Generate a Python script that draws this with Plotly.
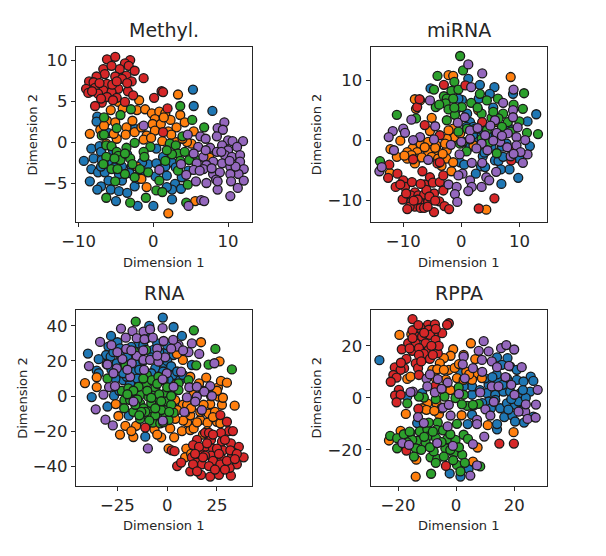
import plotly.graph_objects as go

methyl_blue = [(5.3,6.4),(5.4,4.4),(7.9,3.8),(-7.5,3.1),(-7.6,2.5),(-6.0,1.1),(-2.5,1.6),(-8.3,-0.8),(-7.2,-0.5),(-7.0,-1.2),(-8.0,-2.0),(-9.3,-2.3),(-5.4,-1.0),(1.3,-1.8),(0.4,-0.8),(-8.3,-3.3),(-7.4,-3.7),(-6.5,-3.7),(-4.2,-3.0),(-2.9,-3.0),(-0.7,-2.7),(0.4,-2.6),(2.5,-2.5),(-8.5,-4.8),(-6.0,-4.7),(-4.2,-4.7),(-2.5,-5.4),(1.8,-4.1),(2.9,-5.1),(3.8,-4.3),(-7.0,-5.4),(-7.5,-5.8),(-5.7,-5.8),(-4.6,-6.0),(-3.5,-6.2),(2.5,-5.8),(3.7,-5.7),(2.5,-7.0),(-5.0,-7.2),(-2.1,-7.8),(0,-7.8),(4.7,-3.5),(-1.8,-3.9),(-5.5,-2.5),(-3.2,-3.8),(-6.9,-2.2),(-1.5,-2.5),(0.9,-3.3),(1.6,-3),(3,-3.1),(-4.6,-3.9),(-2,-4.5),(-7,-3),(-5.2,-3.1),(-3.5,-1.5),(1.8,-5.5),(0.3,-4.2)]
methyl_orange = [(3.3,5.8),(-1.9,5.1),(-4.7,4.9),(-5.7,3.9),(-4.1,4.1),(-2.2,3.9),(-1.1,4.0),(-0.2,3.5),(0.8,3.7),(1.6,3.5),(3.6,3.3),(0.2,2.8),(2.3,2.7),(-6.2,2.6),(-5.1,2.4),(-0.1,2.2),(1.0,2.2),(4.2,2.4),(-7.1,1.5),(-3.6,1.8),(3.1,1.8),(0.2,1.4),(2.0,1.3),(5.4,1.3),(-8.5,1.0),(-3.7,0.9),(-2.5,1.2),(-0.9,0.8),(2.4,0.9),(-4.9,0.4),(-1.3,0.3),(1.2,0.1),(3.1,0),(5.1,-0.2),(7.5,-1.9),(-2.2,-3.0),(-1.6,-4.5),(-0.9,-5.5),(2.0,-8.7),(5.6,-7.2),(4.5,0),(-2.8,2.6),(-1.6,1.8),(-6.6,2),(-5.3,1),(-0.3,0.5),(1.4,3.0),(3.9,0.4),(-6.3,-0.2)]
methyl_green = [(-3.0,4.0),(3.6,4.4),(-4.4,3.3),(-6.6,3.0),(5.2,2.7),(6.8,1.8),(-4.9,1.7),(-6.9,0.8),(-6.6,0.9),(3.9,0.7),(-6.3,-0.4),(-5.6,-0.5),(-2.5,-0.1),(-3.6,-0.7),(-0.4,-0.6),(2.2,-0.2),(3.0,-0.4),(-4.9,-1.2),(-6.3,-1.8),(-4.7,-1.7),(-3.1,-2.0),(-1.3,-1.2),(-1.2,-1.8),(3.3,-1.4),(4.2,-1.2),(2.5,-1.5),(-6.7,-2.7),(-4.4,-2.2),(-5.6,-3.3),(-3.8,-3.9),(-2.5,-4.3),(-0.7,-3.7),(3.3,-3.5),(-5.1,-4.8),(0.8,-4.7),(4.6,-5.2),(0.4,-5.9),(1.2,-6.1),(-6.3,-6.8),(-3.1,-7.4),(-1.0,-6.8),(4.4,-7.4),(5.8,-2.2),(-4.8,-3.3),(-2.8,-2.7),(-1.8,-3.3),(1.8,-1),(3.6,-2.3),(-5.2,-2),(-3.8,-1.4),(4.8,-2.2),(1.6,-2.3)]
methyl_red = [(-6.2,10.1),(-5.1,10.4),(-3.1,10.0),(-3.8,9.6),(-6.7,8.9),(-4.5,8.9),(-3.3,9.3),(-2.5,8.7),(-6.5,8.3),(-7.6,8.0),(-5.1,8.0),(-3.6,8.1),(-1.3,7.8),(-8.6,7.4),(-8.0,7.3),(-6.2,7.1),(-4.2,7.7),(-2.9,7.4),(-4.7,6.5),(-9.0,6.5),(-7.8,6.6),(-6.7,6.3),(-8.7,6.0),(-7.4,5.9),(-5.6,6.1),(-3.4,6.2),(-6.9,4.8),(-6.2,5.5),(-4.9,5.4),(-3.8,4.9),(-7.8,4.4),(-2.7,5.7),(0.1,5.4),(1.1,6.2),(1.3,6.1),(1.9,4.1),(1.3,1.2),(-5.6,9.3),(-7.2,7.2),(-5.5,7),(-4.9,7.4),(-3.5,7.2),(-8.2,6.2),(-7,5.3),(-5.4,5.1)]
methyl_purple = [(9.5,2.4),(8.6,1.7),(9.3,1.5),(-1.3,2.0),(4.6,0.9),(6.3,0.7),(7.0,0.4),(8.5,0.7),(12.0,0.1),(10.0,0.2),(10.6,0.1),(6.0,-0.6),(7.6,-0.7),(9.2,-0.4),(10.0,-1.0),(11.2,-0.6),(8.5,-1.2),(5.4,-1.4),(6.7,-1.8),(9.6,-1.6),(10.5,-1.8),(11.6,-1.6),(8.0,-2.4),(5.8,-2.6),(7.1,-2.8),(9.2,-2.6),(11.6,-2.4),(12.1,-3.3),(10.3,-3.0),(3.7,-2.7),(0.8,-3.4),(5.4,-3.4),(6.7,-3.3),(8.0,-3.9),(8.9,-3.7),(11.4,-3.9),(10.3,-3.9),(5.7,-4.8),(7.1,-5.0),(8.4,-4.6),(10.4,-4.8),(12.1,-4.7),(11.3,-5.6),(8.6,-5.8),(4.7,-7.8),(6.4,-7.1),(6.8,-7.2),(10.3,-6.6),(7.8,-3.2),(9.1,-1.2),(6.2,-3.5),(11,-3),(10.2,-2.3),(7,-1),(8.6,-4.8),(4.4,-4)]

mirna_blue = [(1.2,10.3),(3.2,9.3),(5.7,8.9),(-5.3,8.7),(4.9,7.8),(8.9,7.8),(0.1,6.8),(12.9,4.4),(11.4,3.2),(1.5,3.1),(0.9,2.3),(2.1,2.3),(3.8,1.2),(5.2,0.6),(5.2,-1.1),(11.8,-0.9),(3.7,-2.6),(5.8,-3.3),(6.4,-3.4),(3.4,-4.3),(4.1,-4.4),(-0.2,-3.6),(8.3,-4.8),(6.8,-4.8),(9.8,-6.2),(2.5,-5.5),(6.9,-7.2),(3.2,-0.5),(7.8,-0.5),(7.2,-2.7),(3,0.5),(1,4.5),(-1,5),(-0.5,7),(6,1),(7,-1),(9.5,-2.8),(2,1),(4,-2),(8,2.5),(5.5,5.5),(3,7),(10,-3),(0.5,-4),(1.5,-1)]
mirna_orange = [(8.5,10.6),(-2.2,10.9),(-1.4,10.8),(-8,6.9),(-7.1,6.7),(-7.8,5.3),(-5.1,3.8),(-10.5,0),(-12.2,-1.4),(-11.1,-2.7),(-1.4,2.0),(2.9,5.1),(5.8,3.1),(-5.4,1.6),(-2.2,1.7),(-1.1,0.6),(-2.5,0.3),(-7,-0.5),(-5.7,-0.2),(-4.3,-0.8),(-8.4,-1.3),(-9.3,-1.9),(-7.6,-1.9),(-5.7,-1.9),(-4,-1.9),(-2.5,-1.6),(-9.3,-3),(-7.6,-3),(-2.6,-3),(-1.4,-3.6),(-1.7,-5.1),(-12.3,-5.4),(4.3,-11.5),(2.1,-0.8),(-5.1,-2.7),(-4,-3),(-8.6,-2.4),(-6.8,-2.8),(-4.5,-1.2),(-3.2,-2.2),(-6.3,-1.1),(-8,-3.8),(-3.4,-4.2),(-2.8,-0.5),(-0.2,1.2),(-9.8,-2.5)]
mirna_green = [(-0.2,14.1),(0.3,11.7),(-4.1,10.8),(-1.2,9.8),(-4.7,8.5),(3.2,7.8),(10.8,7.9),(-1.7,8.3),(-3,7.4),(-2.5,7),(-1.4,7),(1.7,6.3),(4.4,6.7),(6.3,7),(-4.4,5.6),(-2.7,6.2),(0.1,5.6),(-2.2,5.2),(10.6,5.3),(-11.1,4.3),(-1.1,4.3),(3.5,4.5),(7.2,4.5),(-2.5,3.4),(5.2,3.8),(6.4,3.7),(8,3.1),(10,3.2),(3.5,2.6),(7,2.3),(11.3,1.3),(13.2,1.1),(0.3,-0.2),(-0.2,-0.5),(0.9,-1.8),(6.1,-2.1),(-14,-3.4),(-7.8,3.7),(2.4,2.0),(4.4,1.7),(3.5,0.3),(1,2),(2.8,5.5),(5.5,4.8),(-3.8,6),(-0.5,8.5),(8.5,1.5),(6.5,1),(4.8,-0.3),(-0.5,1.5),(1.5,0.2),(9,6),(-1.2,5.5)]
mirna_red = [(-12.4,-4.0),(-12.6,-6.2),(-11.0,-5.5),(-11.3,-7.7),(-10,-6.6),(-9.7,-7.7),(-8.5,-6.9),(-6.7,-5.1),(-5.4,-6.1),(-6.3,-7.3),(-4.9,-7.0),(-3.7,-6.9),(-3.1,-5.8),(-3.1,-8.3),(-8,-8.6),(-8.7,-9.1),(-7.4,-9.1),(-6.4,-9.0),(-4.7,-8.8),(-10.1,-9.8),(-8.6,-10.2),(-7.2,-10.2),(-5.7,-10.2),(-8,-11),(-8.9,-11),(-9.3,-11.4),(-7,-11.2),(-6.4,-11.2),(-3.8,-10.1),(-2.9,-10.9),(-2.1,-11.4),(-4.7,-11.9),(3.0,-11.3),(5.7,-9.6),(-4.1,-3.8),(-3.7,0.9),(-6.3,2.6),(-7.6,5.6),(-7.2,6.9),(-3,9.3),(0.7,9.2),(3.6,3.1),(8.6,-3.3),(9.1,-1.6),(-8.3,-3.1),(-3.7,-3.6),(-7.5,-9.8),(-8.2,-10),(-6,-8.2),(-5.5,-9.3),(-9.5,-8.8),(-7,-7.2),(-10.5,-7.3),(-5.8,-11),(-4.5,-10)]
mirna_purple = [(1.2,12.7),(3.6,11.2),(1.7,8.9),(9,8.5),(-5.4,6.7),(7.2,6.3),(8.9,5.1),(-8.6,3.5),(-11.8,1.6),(-12.5,0.6),(-10,2),(-9.7,1.3),(-7.1,0.6),(-8.3,0.1),(-4.5,2.4),(-4.7,0.2),(-11.6,-1.6),(-0.6,3),(0.6,3.9),(5.8,3.4),(8.9,3.9),(9.7,2.2),(1.5,1.7),(4.1,0.9),(6.1,1.3),(8,1.2),(9.5,0.6),(11,0.1),(1.5,0.3),(3.5,-0.5),(6.7,-0.2),(7.9,-1.1),(9.5,-0.8),(2.6,-1.3),(4.5,-1.6),(-0.3,-2.3),(11.4,-2.3),(10.2,-1.9),(-5.7,-3.2),(1.8,-3.7),(10.6,-3.7),(6,-5.2),(0.2,-5.5),(-0.5,-5.8),(4.3,-6.1),(4.8,-6.6),(1.5,-6.6),(-2.2,-7.3),(-0.8,-7.7),(3.5,-7.7),(1.8,-7.7),(1.2,-8.4),(-1.1,-8.9),(-0.7,-10.2),(-14.1,-5.1),(-13.7,-4.4),(5.5,0),(8.5,-2.6),(2.8,2.1),(7,0.8),(0,-0.2),(5,2.5),(9,-2.2),(3.6,-3.7),(-1.8,-0.7)]

rna_blue = [(-2.2,44.8),(3.2,39.4),(-9,40),(7.4,34.3),(-28.2,34.3),(-25,30.7),(-29.5,28.2),(-23.7,27.2),(-39.8,24.2),(-30.7,23.4),(-28.4,22.5),(-34.4,21),(-30.4,18.1),(-35.4,14.5),(-34.4,13),(-25.3,18.7),(-19.5,16.8),(-22,9),(-17,14),(-13.6,24.4),(-6.9,26.3),(-1.8,24.4),(3.2,23.4),(-1.8,18.7),(-6,15.8),(3.2,12),(6.5,9.1),(0.7,9.1),(-14.4,30),(-37.9,-0.6),(-30,-6),(-26.7,0.2),(-19.3,-11.2),(-11,-23.2),(12.4,17.7),(-18.6,7.2),(-11.9,12),(-10.2,33),(-20.3,11),(-27,25),(-22,20),(-15,18),(-12,20),(-8,22),(-4,25),(0,20),(-22,13),(-26,10),(-15,10),(-8,13),(-2,14),(2,17),(5,14),(8,12),(-28,15),(-12,29),(-5,30),(0,29),(-18,28),(-24,24),(-20,22),(-14,15),(-24,3),(-18,-2)]
rna_orange = [(-41.3,7.4),(-35.4,10.7),(-35.4,5.1),(-25.8,-4.6),(-24.5,-11.4),(-21,-17),(-23.7,-22),(-17,-23.4),(-15.6,-17),(-6.4,-19),(1.5,-18.5),(-3,-23.6),(3.5,-23.6),(7.4,-20),(0.7,-30),(9.6,-30),(9,-35),(11.6,-19.4),(10,-15),(13.3,-18.5),(16.6,-13.7),(20.3,-15.2),(25,-14.7),(26.7,-15.6),(11.6,-11),(16.6,-9),(20.8,-10),(24,-9),(27.5,-5),(33.9,-5.5),(21.6,-4.6),(18.3,-5),(25.8,-0.4),(25.5,4.8),(27,8.6),(30,7.6),(19.6,10.5),(16,7.2),(11.6,11),(7.9,20.6),(4.9,24),(26.3,19.8),(17,30.7),(7.9,-5),(4,-2.3),(9,-9.5),(13,0.6),(4,6.3),(5,-8),(10,-5),(15,-15),(20,-20),(23,-12),(28,-1),(22,0),(18,3),(12,-7),(8,-14),(4,-13),(18,-22),(14,-30),(12,-33),(25,3),(-5,-22),(-18,-20)]
rna_green = [(-15.8,42.5),(13.4,37.5),(24.2,26.9),(32.5,15.2),(14.6,17.5),(20.8,17.9),(-10.6,26.3),(-16.6,25.3),(-21,17.7),(-30,10),(-22.8,2.9),(-19.5,4.4),(-21.5,-2.3),(-21.6,-7),(-17,0.6),(-13.6,0.6),(-10.6,6.9),(-10.2,12),(-6,4.4),(-1.8,9.1),(-13.6,-4.2),(-9.4,-0.4),(-7.2,0.2),(-4.4,-3.2),(-0.5,1.9),(5.7,7.2),(3.2,2.5),(-11.9,-7),(-7.7,-7.6),(-1.8,-6.5),(-13.6,-13),(-7.2,-15.2),(3.2,-9.5),(-1.8,-12.2),(-3.5,-15.6),(-0.2,-3.2),(0.7,-13.7),(-9.4,-11.8),(-18.6,-2.3),(-14.4,5.3),(-7.7,9.1),(-4.4,11),(-17,-9),(-5.2,-10.9),(-11,-9),(5.7,3.4),(10.7,9.1),(-15,-2),(-8,-4),(-3,-8),(2,-5),(-10,3),(-4,1),(0,5),(-13,-9),(-6,-11),(-16,-5),(-9,-14),(-3,-3),(1,-9),(-5,7),(-12,10),(-8,-1),(-14,-11),(2,0),(-2,-15),(-6,-7),(-17,3),(-20,1)]
rna_red = [(26.7,-10.9),(30,-14.7),(19,-21),(21,-21),(31,-20),(33,-20),(15,-25),(22,-25),(27.5,-26),(32,-27),(36,-29),(13,-28),(19,-29),(23,-30),(28,-31),(33,-32),(12.4,-35),(17,-33),(22,-34),(27.5,-36),(32.5,-34),(38.4,-35),(15,-38),(19,-34),(23,-37),(17.5,-39),(26.7,-39),(35,-39),(5,-40),(7,-38),(11.6,-43),(17,-45),(21.6,-46),(26,-45),(32,-45.5),(31.4,-41),(13,-39),(2.3,-31),(3.7,-31.5),(-11,-18),(31.7,-31),(21,-40),(29,-42),(16,-29),(25,-30),(30,-37),(24,-42),(18,-35),(14,-33),(27,-21),(20,-27),(35,-33),(15,-43),(26,-33),(34,-36),(29,-25),(23,-22)]
rna_purple = [(-23.2,38.5),(-17.4,37),(-11.9,36.8),(-8.6,38),(-2.3,38.7),(-33.7,30.9),(-20.8,33.3),(-15.3,33),(-11.4,32.4),(-7.2,33.3),(-1.8,31.4),(12.4,30),(5.7,29),(-20.6,26.9),(-15.3,22.9),(-22.5,21.1),(-17.8,18.7),(-11.9,20.6),(-8.6,20.6),(-4.4,19.6),(-1,22.1),(10.7,25),(16.1,24),(23.7,18.7),(-39.3,17.1),(-25.3,15.8),(-27,13),(-18.6,11),(-11.6,14.9),(-0.2,13),(-2.3,9.5),(7,13.9),(11.1,5),(-29.2,5.1),(-26.2,5.7),(-32,0.8),(3.2,5.3),(14.9,5.3),(21.6,5.7),(18.6,2.5),(22.5,0),(9.9,-0.8),(14.9,-0.4),(14.1,-3.2),(-16.9,-3.2),(-35.9,-7.6),(-31,-13.5),(-27.3,-16.8),(17.4,-8),(8.6,-9.1),(-2.2,-14.1),(-9.7,-29.9),(4.9,28.2),(-28,29),(-12,26),(-5,27),(-25,25),(3,32),(8,26),(-18,26),(-20,15),(-5,23),(2,27),(-30,18)]

rppa_blue = [(-26.4,14.5),(1.5,-30.3),(-2.2,-29.1),(4.3,-27.4),(-13.4,-9.7),(-16.8,0.5),(-11.7,1.8),(1.5,9.5),(14.1,15.6),(17.7,15.3),(15.8,12.7),(18.6,12.1),(20.9,10.8),(17.5,7.6),(20.9,6.9),(25.7,8.2),(26.6,6.5),(11.2,5),(14.1,6.9),(23.2,6.3),(5.5,1.2),(5.5,4.4),(2.6,4.4),(10.6,1.8),(13.5,1.2),(16.3,2.4),(18.6,2.4),(22.1,1.8),(25.5,2.4),(11.2,-1.4),(15.2,-4),(17.5,-2.1),(20.3,-2.7),(5.5,-6.5),(16.6,-7.4),(19.4,-6.8),(23.4,-9.5),(20.3,-9.1),(4,-10.1),(14.1,-12.1),(14.1,-10.1),(13.5,-0.8),(26.6,-7.2),(21.5,-1.4),(8.2,3),(12,-4),(24,0),(16,5),(22,-5),(14,9),(19,-0.5),(10,7.5),(6,-3),(18,-4.5),(9,-2),(12.5,8),(23,3)]
rppa_orange = [(-19.5,24.2),(-15.4,24.5),(5.1,21),(-1,18.7),(-1.9,16.2),(-4.2,15.3),(-5.6,13.3),(-8.2,10.8),(-2.5,10.8),(-6.5,11),(-16.8,7.3),(-15.7,8.2),(0.3,7.6),(3.5,10.1),(6.6,14.9),(7.2,9.5),(8.9,7.6),(2.6,6.9),(5.5,6.9),(-9.9,-2.1),(-11.7,-4),(-10.2,-4.6),(-6.7,-2.1),(-5.9,-6.3),(-17.3,-6.2),(1.9,-6.7),(10.9,-10.5),(19.8,-13.2),(-19.1,-12.7),(-23.1,-16.4),(7.4,-19.1),(-13.7,-23.8),(5.8,-24.5),(-13.9,-30.3),(-4.2,10.8),(2.6,16.5),(-3.5,7),(-0.5,11.5),(-7,7.5),(-5,-4),(-7.5,-5),(4.5,9),(1,13),(-2,3)]
rppa_green = [(-8.6,-29.2),(-22.7,-14.6),(-20.3,-15.5),(-20.3,-19.4),(-15.7,-13.6),(-12.5,-12.9),(-9.9,-12.1),(-6.3,-9.5),(-9.4,-9.5),(-6.7,-12.3),(-9.9,-14.9),(-13.4,-16.5),(-10.5,-17.1),(-6.9,-15.5),(-3.1,-15.9),(0.3,-10),(2.6,-14.2),(4.1,-15.8),(-0.2,-16.2),(-15.1,-16.2),(-13.9,-19.4),(-14.5,-22.6),(-8.8,-22.9),(-6.5,-23.5),(-7.7,-20.6),(-3.7,-19.4),(-0.8,-21.3),(2.1,-21.9),(-4.2,-22.6),(0.3,-25.8),(1.5,-28.3),(8.3,-26.4),(-11.1,0.1),(-4,0.5),(-0.2,-0.1),(0.9,4),(7.8,-2.3),(3.8,-3.1),(5.8,-2.7),(-12.8,0.5),(-16.8,-2.1),(2.6,1.2),(-17,-17),(-12,-20),(-9,-19),(-11,-15),(-8,-13),(-4.5,-12.5),(-2,-20),(1,-19),(-5,-17),(-18,-14),(-1,-24),(3,-25),(-7,-25),(-16,-13),(-2,-14),(2,-2.5),(-7,-0.5)]
rppa_red = [(-15,30.3),(-9.7,28.1),(-7.3,28.3),(-2.5,28.7),(-3.1,28.1),(-12.2,26.8),(-9.4,26.2),(-4.8,24.9),(-13.9,23.6),(-11.7,23.6),(-7.7,24.9),(-9,24.2),(-16.5,21),(-13.9,21),(-10.5,21),(-7.1,22.3),(-18.7,18.7),(-15.1,18.1),(-12.8,19.1),(-9.4,18.5),(-6.3,17.2),(-10.9,15.3),(-17.1,15),(-13.9,13.3),(-11.1,16.9),(-13.1,11.4),(-21.1,11.7),(-17.9,11.4),(-19.1,10.8),(-12.8,8.8),(-21.6,8.8),(-20.5,7.8),(-22.5,6.2),(-19.7,3.1),(-21,0.9),(-19.1,1.2),(-20.5,-1.7),(-7.3,4.4),(-13,-4.2),(14.9,-17.6),(19.9,-17.6),(-3.5,-26.2),(-17.1,-20.3),(-12.8,16.5),(-15,26),(-11,25),(-7,26.5),(-13,28),(-6,20),(-8.5,20),(-15,23),(-12,14),(-16,19),(-9,15),(-19,13.5),(-8,16.5)]
rppa_purple = [(9.5,21.8),(15.5,19.1),(17.3,20.3),(20,18.6),(7.8,18.1),(11.2,17.9),(2.6,15.9),(8.9,14.6),(12.3,14),(2.3,12.9),(14.1,11.8),(18.2,12.3),(22.6,11.8),(5.8,11.4),(-10.2,7.4),(-6.3,7.2),(-2.9,5.9),(-9.9,4.4),(-14.9,2.4),(-15.7,2.2),(-7.3,2.1),(8.3,2.1),(12.3,4.4),(14.6,4.4),(28.1,3.1),(20.1,1.2),(-4.5,-3.8),(-2.5,-2.7),(-1.9,-6.8),(10.1,-4.4),(11.8,-6.8),(27.5,-2.6),(23.8,-5.3),(24.6,-8.1),(27.4,-7.6),(21.5,-5.3),(-13.1,-7.4),(-11.1,-9.7),(7.2,-8.5),(7.2,-10.1),(-2.9,-11),(9.7,-14.9),(-18.5,-17.4),(-16.2,-18.1),(-6.5,-17.4),(-1.1,-18.5),(5.8,-17.8),(7.2,-26),(4.9,-29.9),(17,8),(9,10),(1,1.5),(13,-1.5),(24,-2.5),(19,5),(3,7.5),(-5,3.5),(-9,9)]

panel_titles = ["Methyl.", "miRNA", "RNA", "RPPA"]
panel_series = [
    [methyl_blue, methyl_orange, methyl_green, methyl_red, methyl_purple],
    [mirna_blue, mirna_orange, mirna_green, mirna_red, mirna_purple],
    [rna_blue, rna_orange, rna_green, rna_red, rna_purple],
    [rppa_blue, rppa_orange, rppa_green, rppa_red, rppa_purple],
]
series_colors = ["#1f77b4", "#ff7f0e", "#2ca02c", "#d62728", "#9467bd"]
x_ranges = [(-10.35, 13.2), (-15.6, 14.7), (-45.8, 42.6), (-29.4, 31.2)]
y_ranges = [(-9.76, 11.6), (-13.55, 15.6), (-51.2, 49.1), (-33.8, 33.8)]
x_ticks = [[-10, 0, 10], [-10, 0, 10], [-25, 0, 25], [-20, 0, 20]]
y_ticks = [[-5, 0, 5, 10], [-10, 0, 10], [-40, -20, 0, 20, 40], [-20, 0, 20]]

# The page puts the figure 8 px in from the top-left corner, so the figure is laid out 16 px smaller.
OFF = 8
W, H = 590, 540
ML, MR, MT, MB = 40, 20, 30, 40
x_pix = [(76 - OFF, 252 - OFF), (370.7 - OFF, 546.7 - OFF), (76 - OFF, 252 - OFF), (370.7 - OFF, 546.7 - OFF)]
y_pix = [(47 - OFF, 222 - OFF), (47 - OFF, 222 - OFF), (310 - OFF, 485.7 - OFF), (310 - OFF, 485.7 - OFF)]
ytitle_gap = [44, 54, 53, 54]
PW, PH = W - ML - MR, H - MT - MB
INK = "#262626"

fig = go.Figure()
for i in range(4):
    suffix = "" if i == 0 else str(i + 1)
    for pts, color in zip(panel_series[i], series_colors):
        fig.add_trace(go.Scatter(
            x=[p[0] for p in pts], y=[p[1] for p in pts],
            mode="markers", showlegend=False, hoverinfo="skip",
            xaxis="x" + suffix, yaxis="y" + suffix,
            marker=dict(size=9, color=color, line=dict(color="#1a1a1a", width=1.3)),
        ))
    common = dict(showline=True, mirror=True, linecolor=INK, linewidth=1.2, showgrid=False,
                  zeroline=False, ticks="outside", ticklen=4, tickcolor=INK, tickwidth=1,
                  automargin=False, tickfont=dict(family="DejaVu Sans", size=16.5, color=INK))
    left, right = (x_pix[i][0] - ML) / PW, (x_pix[i][1] - ML) / PW
    bottom, top = 1 - (y_pix[i][1] - MT) / PH, 1 - (y_pix[i][0] - MT) / PH
    fig.update_layout({
        "xaxis" + suffix: dict(
            common, domain=[left, right], range=x_ranges[i],
            anchor="y" + suffix, tickmode="array", tickvals=x_ticks[i],
            ticktext=[str(v).replace("-", "\u2212") for v in x_ticks[i]]),
        "yaxis" + suffix: dict(
            common, domain=[bottom, top], range=y_ranges[i],
            anchor="x" + suffix, tickmode="array", tickvals=y_ticks[i],
            ticktext=[str(v).replace("-", "\u2212") for v in y_ticks[i]]),
    })
    fig.add_annotation(
        text=panel_titles[i], showarrow=False,
        xref="paper", yref="paper", x=(left + right) / 2, y=top,
        xanchor="center", yanchor="bottom", yshift=4,
        font=dict(family="DejaVu Sans", size=19, color=INK))
    fig.add_annotation(
        text="Dimension 1", showarrow=False,
        xref="paper", yref="paper", x=(left + right) / 2, y=bottom,
        xanchor="center", yanchor="middle", yshift=-40,
        font=dict(family="DejaVu Sans", size=13, color=INK))
    fig.add_annotation(
        text="Dimension 2", showarrow=False, textangle=-90,
        xref="paper", yref="paper", x=left, y=(bottom + top) / 2,
        xanchor="center", yanchor="middle", xshift=-ytitle_gap[i],
        font=dict(family="DejaVu Sans", size=13, color=INK))

fig.update_layout(width=W, height=H, margin=dict(l=ML, r=MR, t=MT, b=MB),
                  paper_bgcolor="white", plot_bgcolor="white", showlegend=False)
fig.write_html("out.html")
